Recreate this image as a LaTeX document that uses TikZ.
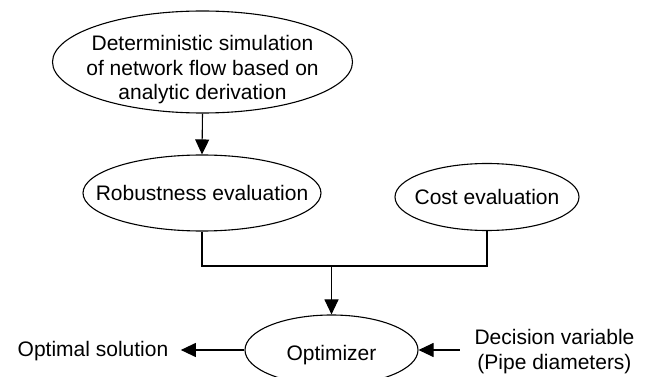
\documentclass[tikz,border=0pt]{standalone}
\usepackage{fontspec}
\setmainfont{Liberation Sans}
\usetikzlibrary{arrows.meta,shapes.geometric}
\begin{document}
\begin{tikzpicture}[x=1pt,y=-1pt,
  line width=1.1pt,
  every node/.style={font=\fontsize{21}{24.5}\selectfont},
  oval/.style={draw,ellipse,inner sep=0pt,text height=15pt,text depth=0pt},
  lbl/.style={inner ysep=0pt,text height=15pt,text depth=0pt},
  arr/.style={-{Triangle[length=15pt,width=14pt]}}]
\useasboundingbox (0,0) rectangle (649,377);
\clip (0,0) rectangle (649,377);
\node[draw,ellipse,inner sep=0pt,minimum width=300pt,minimum height=102pt] (top) at (202.5,62)
  {\smash{\makebox[0pt]{\raisebox{-13.3pt}{\begin{tabular}{@{}c@{}}Deterministic simulation\\of network flow based on\\analytic derivation\end{tabular}}}}};
\node[oval,minimum width=238pt,minimum height=76pt] (rob) at (202,193) {\makebox[0pt]{Robustness evaluation}};
\node[oval,minimum width=184pt,minimum height=67pt] (cost) at (487,197) {\makebox[0pt]{Cost evaluation}};
\node[oval,minimum width=173pt,minimum height=70pt] (opt) at (331.5,350) {\makebox[0pt]{\raisebox{-3pt}{Optimizer}}};
\node[lbl,inner xsep=12pt] (sol) at (93,349) {Optimal solution};
\node[align=center,inner xsep=14pt,inner ysep=0pt] (dec) at (554.5,351.5) {Decision variable\\(Pipe diameters)};
\coordinate (j) at (331.5,266);
\draw[arr] (top.south) -- (rob.north);
\draw (rob.south) |- (j) -| (cost.south);
\draw[arr] (j) -- (opt.north);
\draw[arr] (opt.west) -- (sol.east |- opt.west);
\draw[arr] (dec.west |- opt.east) -- (opt.east);
\end{tikzpicture}
\end{document}
